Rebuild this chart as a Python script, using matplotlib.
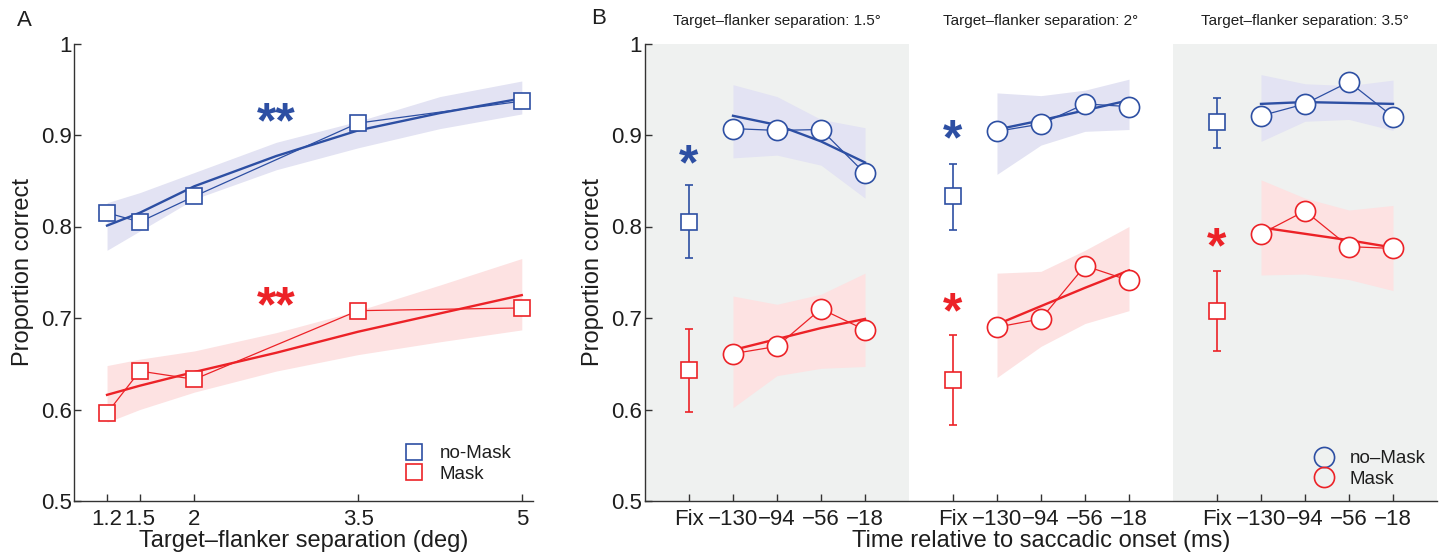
import matplotlib
matplotlib.use("Agg")
import matplotlib.pyplot as plt
import matplotlib.transforms as mtransforms
from matplotlib.lines import Line2D

plt.rcParams['font.family'] = ['Liberation Sans', 'DejaVu Sans']

# ---------------- data: panel A ----------------
sep = [1.2, 1.5, 2, 3.5, 5]
sep_labels = ['1.2', '1.5', '2', '3.5', '5']
a_nomask = [0.815, 0.805, 0.833, 0.913, 0.937]
a_mask = [0.596, 0.642, 0.633, 0.708, 0.711]
a_fit_x = [1.2, 1.5, 2, 2.75, 3.5, 4.25, 5]
a_fit_nomask = [0.801, 0.815, 0.844, 0.877, 0.905, 0.924, 0.940]
a_band_nomask_lo = [0.774, 0.795, 0.830, 0.862, 0.886, 0.907, 0.923]
a_band_nomask_hi = [0.826, 0.837, 0.859, 0.892, 0.915, 0.942, 0.959]
a_fit_mask = [0.616, 0.626, 0.641, 0.662, 0.685, 0.705, 0.725]
a_band_mask_lo = [0.586, 0.600, 0.619, 0.642, 0.660, 0.674, 0.687]
a_band_mask_hi = [0.648, 0.655, 0.664, 0.684, 0.708, 0.736, 0.765]
a_star_x = 2.75
a_star_nomask = 0.922
a_star_mask = 0.720

# ---------------- data: panel B ----------------
time_labels = ['Fix', '\u2212130', '\u221294', '\u221256', '\u221218']
sep_titles = ['Target\u2013flanker separation: 1.5\u00b0',
              'Target\u2013flanker separation: 2\u00b0',
              'Target\u2013flanker separation: 3.5\u00b0']
fix_nomask = [0.805, 0.833, 0.914]
fix_nomask_lo = [0.766, 0.796, 0.886]
fix_nomask_hi = [0.845, 0.868, 0.940]
fix_mask = [0.643, 0.632, 0.708]
fix_mask_lo = [0.597, 0.583, 0.664]
fix_mask_hi = [0.688, 0.681, 0.751]

b_nomask = [[0.907, 0.905, 0.906, 0.858],
            [0.904, 0.912, 0.934, 0.931],
            [0.921, 0.934, 0.958, 0.920]]
b_mask = [[0.661, 0.669, 0.710, 0.687],
          [0.690, 0.699, 0.757, 0.741],
          [0.792, 0.817, 0.778, 0.776]]
b_fit_nomask = [[0.921, 0.911, 0.893, 0.870],
                [0.906, 0.916, 0.927, 0.938],
                [0.934, 0.936, 0.935, 0.934]]
b_fit_mask = [[0.665, 0.677, 0.689, 0.699],
              [0.693, 0.713, 0.733, 0.752],
              [0.799, 0.792, 0.785, 0.777]]
b_band_nomask_lo = [[0.875, 0.878, 0.867, 0.831],
                    [0.857, 0.889, 0.904, 0.906],
                    [0.893, 0.915, 0.917, 0.905]]
b_band_nomask_hi = [[0.955, 0.942, 0.917, 0.908],
                    [0.946, 0.943, 0.949, 0.961],
                    [0.966, 0.956, 0.954, 0.960]]
b_band_mask_lo = [[0.602, 0.637, 0.645, 0.647],
                  [0.635, 0.669, 0.694, 0.708],
                  [0.747, 0.748, 0.742, 0.730]]
b_band_mask_hi = [[0.724, 0.715, 0.726, 0.749],
                  [0.749, 0.751, 0.774, 0.800],
                  [0.851, 0.831, 0.818, 0.823]]
b_star_nomask = [0.876, 0.903, None]
b_star_mask = [None, 0.714, 0.785]

# ---------------- style ----------------
BLUE = '#2d4fa3'
RED = '#ec2227'
BAND_BLUE = '#e3e3f3'
BAND_RED = '#fde2e2'
GRAY = '#eff1f0'
SPINE = '#333333'
TXT = '#1e1e1e'
TICK_FS = 16
LABEL_FS = 17
STAR_FS = 36

fig = plt.figure(figsize=(14.39, 5.54), dpi=100)
axA = fig.add_axes([74.3 / 1439, 1 - 501 / 554, (532.7 - 74.3) / 1439, 457.5 / 554])
axB = fig.add_axes([645 / 1439, 1 - 501 / 554, 792 / 1439, 457.5 / 554])


def style_axes(ax):
    for s in ['top', 'right']:
        ax.spines[s].set_visible(False)
    for s in ['left', 'bottom']:
        ax.spines[s].set_color(SPINE)
        ax.spines[s].set_linewidth(1.0)
    ax.tick_params(direction='in', length=5, width=1.0, color=SPINE,
                   labelsize=TICK_FS, labelcolor=TXT)
    ax.tick_params(axis='y', pad=2)
    ax.tick_params(axis='x', pad=6)
    ax.set_ylim(0.5, 1.0)
    ax.set_yticks([0.5, 0.6, 0.7, 0.8, 0.9, 1.0])
    ax.set_yticklabels(['0.5', '0.6', '0.7', '0.8', '0.9', '1'])


def star(ax, x, y, s, color):
    # asterisk glyph sits high in its em box; put baseline below the target point
    tr = mtransforms.offset_copy(ax.transData, fig=fig, x=0, y=-0.44 * STAR_FS, units='points')
    ax.text(x, y, s, color=color, fontsize=STAR_FS, fontweight='bold',
            ha='center', va='baseline', transform=tr, zorder=5)


# ---------------- Panel A ----------------
style_axes(axA)
axA.set_xlim(0.9, 5.1)
axA.fill_between(a_fit_x, a_band_nomask_lo, a_band_nomask_hi, color=BAND_BLUE, lw=0, zorder=1)
axA.fill_between(a_fit_x, a_band_mask_lo, a_band_mask_hi, color=BAND_RED, lw=0, zorder=1)
axA.plot(a_fit_x, a_fit_nomask, color=BLUE, lw=1.7, zorder=3)
axA.plot(a_fit_x, a_fit_mask, color=RED, lw=1.7, zorder=3)
axA.plot(sep, a_nomask, color=BLUE, lw=0.9, marker='s', ms=11, mfc='white',
         mec=BLUE, mew=1.2, zorder=4)
axA.plot(sep, a_mask, color=RED, lw=0.9, marker='s', ms=11, mfc='white',
         mec=RED, mew=1.2, zorder=4)
axA.set_xticks(sep)
axA.set_xticklabels(sep_labels)
axA.set_xlabel('Target\u2013flanker separation (deg)', fontsize=LABEL_FS, labelpad=0, color=TXT)
axA.set_ylabel('Proportion correct', fontsize=LABEL_FS, labelpad=5, color=TXT)
star(axA, a_star_x, a_star_nomask, '**', BLUE)
star(axA, a_star_x, a_star_mask, '**', RED)
hA = [Line2D([], [], ls='none', marker='s', ms=11, mfc='white', mec=BLUE, mew=1.2),
      Line2D([], [], ls='none', marker='s', ms=11, mfc='white', mec=RED, mew=1.2)]
axA.legend(hA, ['no-Mask', 'Mask'], loc='center left', bbox_to_anchor=(0.717, 0.081),
           frameon=False, fontsize=13.5, handlelength=1.2, handletextpad=0.75,
           labelspacing=0.2, borderpad=0, borderaxespad=0, labelcolor=TXT)

# ---------------- Panel B ----------------
style_axes(axB)
axB.set_xlim(0, 18)
xt = []
xtl = []
for g in range(3):
    off = 6 * g
    if g != 1:
        axB.axvspan(off, off + 6, color=GRAY, lw=0, zorder=0)
    tx = [off + 2, off + 3, off + 4, off + 5]
    axB.fill_between(tx, b_band_nomask_lo[g], b_band_nomask_hi[g], color=BAND_BLUE, lw=0, zorder=1)
    axB.fill_between(tx, b_band_mask_lo[g], b_band_mask_hi[g], color=BAND_RED, lw=0, zorder=1)
    axB.plot(tx, b_fit_nomask[g], color=BLUE, lw=1.7, zorder=3)
    axB.plot(tx, b_fit_mask[g], color=RED, lw=1.7, zorder=3)
    axB.plot(tx, b_nomask[g], color=BLUE, lw=0.9, marker='o', ms=14.5, mfc='white',
             mec=BLUE, mew=1.2, zorder=4)
    axB.plot(tx, b_mask[g], color=RED, lw=0.9, marker='o', ms=14.5, mfc='white',
             mec=RED, mew=1.2, zorder=4)
    fx = off + 1
    axB.errorbar([fx], [fix_nomask[g]],
                 yerr=[[fix_nomask[g] - fix_nomask_lo[g]], [fix_nomask_hi[g] - fix_nomask[g]]],
                 color=BLUE, lw=1.2, capsize=3, capthick=1.2, marker='s', ms=11,
                 mfc='white', mec=BLUE, mew=1.2, zorder=4)
    axB.errorbar([fx], [fix_mask[g]],
                 yerr=[[fix_mask[g] - fix_mask_lo[g]], [fix_mask_hi[g] - fix_mask[g]]],
                 color=RED, lw=1.2, capsize=3, capthick=1.2, marker='s', ms=11,
                 mfc='white', mec=RED, mew=1.2, zorder=4)
    if b_star_nomask[g] is not None:
        star(axB, fx, b_star_nomask[g], '*', BLUE)
    if b_star_mask[g] is not None:
        star(axB, fx, b_star_mask[g], '*', RED)
    axB.text(off + 3, 1.025, sep_titles[g], fontsize=11, ha='center', va='center',
             color=TXT)
    xt += [off + 1, off + 2, off + 3, off + 4, off + 5]
    xtl += time_labels
axB.set_xticks(xt)
axB.set_xticklabels(xtl)
axB.set_xlabel('Time relative to saccadic onset (ms)', fontsize=LABEL_FS, labelpad=0, color=TXT)
axB.set_ylabel('Proportion correct', fontsize=LABEL_FS, labelpad=5, color=TXT)
hB = [Line2D([], [], ls='none', marker='o', ms=14.5, mfc='none', mec=BLUE, mew=1.2),
      Line2D([], [], ls='none', marker='o', ms=14.5, mfc='none', mec=RED, mew=1.2)]
axB.legend(hB, ['no\u2013Mask', 'Mask'], loc='center left', bbox_to_anchor=(0.8435, 0.070),
           frameon=False, fontsize=13.5, handlelength=1.2, handletextpad=0.75,
           labelspacing=0.2, borderpad=0, borderaxespad=0, labelcolor=TXT)

fig.text(24 / 1439, 1 - 20 / 554, 'A', fontsize=16, ha='center', va='center', color=TXT)
fig.text(599 / 1439, 1 - 18 / 554, 'B', fontsize=16, ha='center', va='center', color=TXT)

fig.savefig('out.png', dpi=100)
